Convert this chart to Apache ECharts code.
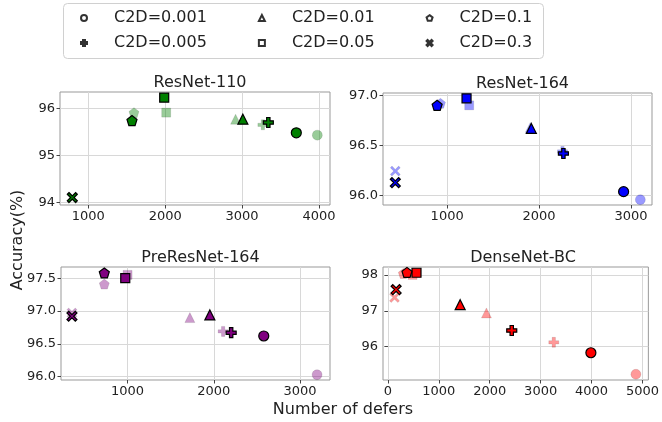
<!DOCTYPE html>
<html>
<head>
<meta charset="utf-8">
<script src="https://cdn.jsdelivr.net/npm/echarts@6/dist/echarts.min.js"></script>
<style>
  html, body { margin: 0; padding: 0; background: #fff; }
  #main { width: 662px; height: 422px; }
</style>
</head>
<body>
<div id="main"></div>
<script>
// legend entries, ordered by C2D
var c2dLabels = ['C2D=0.001', 'C2D=0.005', 'C2D=0.01', 'C2D=0.05', 'C2D=0.1', 'C2D=0.3'];

// panel titles
var panelTitles = ['ResNet-110', 'ResNet-164', 'PreResNet-164', 'DenseNet-BC'];

// ResNet-110 (dark = black edged, light = translucent)
var resnet110DarkX = [3705, 3341, 3010, 1987, 1568, 792];
var resnet110DarkY = [95.48, 95.70, 95.77, 96.23, 95.74, 94.10];
var resnet110LightX = [3978, 3270, 2915, 2013, 1594, 792];
var resnet110LightY = [95.43, 95.65, 95.77, 95.91, 95.91, 94.08];

// ResNet-164
var resnet164DarkX = [2920, 2265, 1916, 1211, 891, 436];
var resnet164DarkY = [96.04, 96.42, 96.67, 96.97, 96.90, 96.13];
var resnet164LightX = [3102, 2255, 1905, 1240, 927, 436];
var resnet164LightY = [95.96, 96.44, 96.68, 96.90, 96.92, 96.245];

// PreResNet-164
var preresDarkX = [2579, 2201, 1954, 973, 730, 355];
var preresDarkY = [96.62, 96.67, 96.94, 97.50, 97.58, 96.92];
var preresLightX = [3197, 2108, 1722, 1000, 730, 355];
var preresLightY = [96.03, 96.69, 96.90, 97.55, 97.41, 96.97];

// DenseNet-BC
var denseDarkX = [3987, 2432, 1419, 561, 374, 161];
var denseDarkY = [95.83, 96.45, 97.17, 98.06, 98.07, 97.59];
var denseLightX = [4871, 3258, 1935, 484, 303, 129];
var denseLightY = [95.23, 96.12, 96.94, 98.00, 98.04, 97.37];

// tick labels
var resnet110XTicks = [1000, 2000, 3000, 4000];
var resnet110YTicks = [94, 95, 96];
var resnet164XTicks = [1000, 2000, 3000];
var resnet164YTicks = [96.0, 96.5, 97.0];
var preresXTicks = [1000, 2000, 3000];
var preresYTicks = [96.0, 96.5, 97.0, 97.5];
var denseXTicks = [0, 1000, 2000, 3000, 4000, 5000];
var denseYTicks = [96, 97, 98];

var FONT = 'DejaVu Sans';
var PLUS = 'path://M2,0H4V2H6V4H4V6H2V4H0V2H2Z';
var XMARK = 'path://M1,0L3,2L5,0L6,1L4,3L6,5L5,6L3,4L1,6L0,5L2,3L0,1Z';
var PENT = 'path://M50,0L97.6,34.5L79.4,90.5L20.6,90.5L2.4,34.5Z';
var symbols = ['circle', PLUS, 'triangle', 'rect', PENT, XMARK];
var symSizes = [10, 10, 10, 9, 10, 10];

var panels = [
  {dx: resnet110DarkX, dy: resnet110DarkY, lx: resnet110LightX, ly: resnet110LightY,
   xt: resnet110XTicks, yt: resnet110YTicks, xmin: 632, xmax: 4143, ymin: 93.94, ymax: 96.35, dec: 0,
   color: '#008000', light: 'rgba(0,128,0,0.5)', grid: {left: 60, top: 92, width: 270, height: 113}},
  {dx: resnet164DarkX, dy: resnet164DarkY, lx: resnet164LightX, ly: resnet164LightY,
   xt: resnet164XTicks, yt: resnet164YTicks, xmin: 302, xmax: 3229, ymin: 95.907, ymax: 97.023, dec: 1,
   color: '#0000ff', light: 'rgba(0,0,255,0.5)', grid: {left: 383, top: 93, width: 269, height: 112}},
  {dx: preresDarkX, dy: preresDarkY, lx: preresLightX, ly: preresLightY,
   xt: preresXTicks, yt: preresYTicks, xmin: 228, xmax: 3347, ymin: 95.95, ymax: 97.67, dec: 1,
   color: '#800080', light: 'rgba(128,0,128,0.5)', grid: {left: 61, top: 267, width: 269, height: 113}},
  {dx: denseDarkX, dy: denseDarkY, lx: denseLightX, ly: denseLightY,
   xt: denseXTicks, yt: denseYTicks, xmin: -97, xmax: 5116, ymin: 95.07, ymax: 98.22, dec: 0,
   color: '#ff0000', light: 'rgba(255,0,0,0.5)', grid: {left: 383, top: 267, width: 270, height: 113}}
];

var grids = [], xAxes = [], yAxes = [], series = [], titles = [];

panels.forEach(function (p, i) {
  grids.push({left: p.grid.left, top: p.grid.top, width: p.grid.width, height: p.grid.height,
    show: true, borderColor: '#999', borderWidth: 1, backgroundColor: 'transparent'});
  xAxes.push({
    type: 'value', gridIndex: i, min: p.xmin, max: p.xmax,
    axisLine: {show: false},
    axisTick: {show: true, customValues: p.xt, length: 3.5, lineStyle: {color: '#444'}},
    axisLabel: {customValues: p.xt, fontSize: 13, color: '#222', margin: 5, fontFamily: FONT,
      formatter: function (v) { return String(v); }},
    splitLine: {show: true, lineStyle: {color: '#d8d8d8', width: 1}}
  });
  yAxes.push({
    type: 'value', gridIndex: i, min: p.ymin, max: p.ymax,
    axisLine: {show: false},
    axisTick: {show: true, customValues: p.yt, length: 3.5, lineStyle: {color: '#444'}},
    axisLabel: {customValues: p.yt, fontSize: 13, color: '#222', margin: 5, fontFamily: FONT,
      formatter: (function (d) { return function (v) { return v.toFixed(d); }; })(p.dec)},
    splitLine: {show: true, lineStyle: {color: '#d8d8d8', width: 1}}
  });
  titles.push({
    text: panelTitles[i], left: p.grid.left + p.grid.width / 2, top: p.grid.top - 22,
    textAlign: 'center',
    textStyle: {fontSize: 16, fontWeight: 'normal', color: '#222', fontFamily: FONT}
  });
  series.push({
    type: 'scatter', xAxisIndex: i, yAxisIndex: i, z: 2,
    data: p.lx.map(function (x, k) {
      return {value: [x, p.ly[k]], symbol: symbols[k], symbolSize: symSizes[k]};
    }),
    itemStyle: {color: p.light, borderColor: 'rgba(0,0,0,0.12)', borderWidth: 1}
  });
  series.push({
    type: 'scatter', xAxisIndex: i, yAxisIndex: i, z: 3,
    data: p.dx.map(function (x, k) {
      return {value: [x, p.dy[k]], symbol: symbols[k], symbolSize: symSizes[k]};
    }),
    itemStyle: {color: p.color, borderColor: '#000', borderWidth: 1.2, opacity: 1}
  });
});

// legend only series
c2dLabels.forEach(function (name, k) {
  series.push({
    type: 'scatter', name: name, xAxisIndex: 0, yAxisIndex: 0, data: [],
    symbol: symbols[k], symbolSize: 6,
    itemStyle: {color: '#fff', borderColor: '#000', borderWidth: 1.2}
  });
});

function legendRow(names, top) {
  return {
    data: names, left: 80, top: top, padding: 0, itemGap: 51,
    itemWidth: 6, itemHeight: 6, selectedMode: false,
    textStyle: {fontSize: 16, color: '#222', fontFamily: FONT, lineHeight: 18, padding: [0, 0, 0, 22]}
  };
}

var chart = echarts.init(document.getElementById('main'), null, {renderer: 'canvas'});
chart.setOption({
  animation: false,
  backgroundColor: '#fff',
  title: titles,
  legend: [
    legendRow([c2dLabels[0], c2dLabels[2], c2dLabels[4]], 9),
    legendRow([c2dLabels[1], c2dLabels[3], c2dLabels[5]], 34)
  ],
  grid: grids,
  xAxis: xAxes,
  yAxis: yAxes,
  series: series,
  graphic: [
    {type: 'rect', z: -1, shape: {x: 63.5, y: 3.5, width: 480, height: 55, r: 4},
     style: {fill: '#fff', stroke: '#d0d0d0', lineWidth: 1}},
    {type: 'text', x: 343, y: 410,
     style: {text: 'Number of defers', fontSize: 16, fill: '#222', fontFamily: FONT,
       align: 'center', verticalAlign: 'middle'}},
    {type: 'text', x: 18, y: 240, rotation: Math.PI / 2,
     style: {text: 'Accuracy(%)', fontSize: 16, fill: '#222', fontFamily: FONT,
       align: 'center', verticalAlign: 'middle'}}
  ]
});
</script>
</body>
</html>
